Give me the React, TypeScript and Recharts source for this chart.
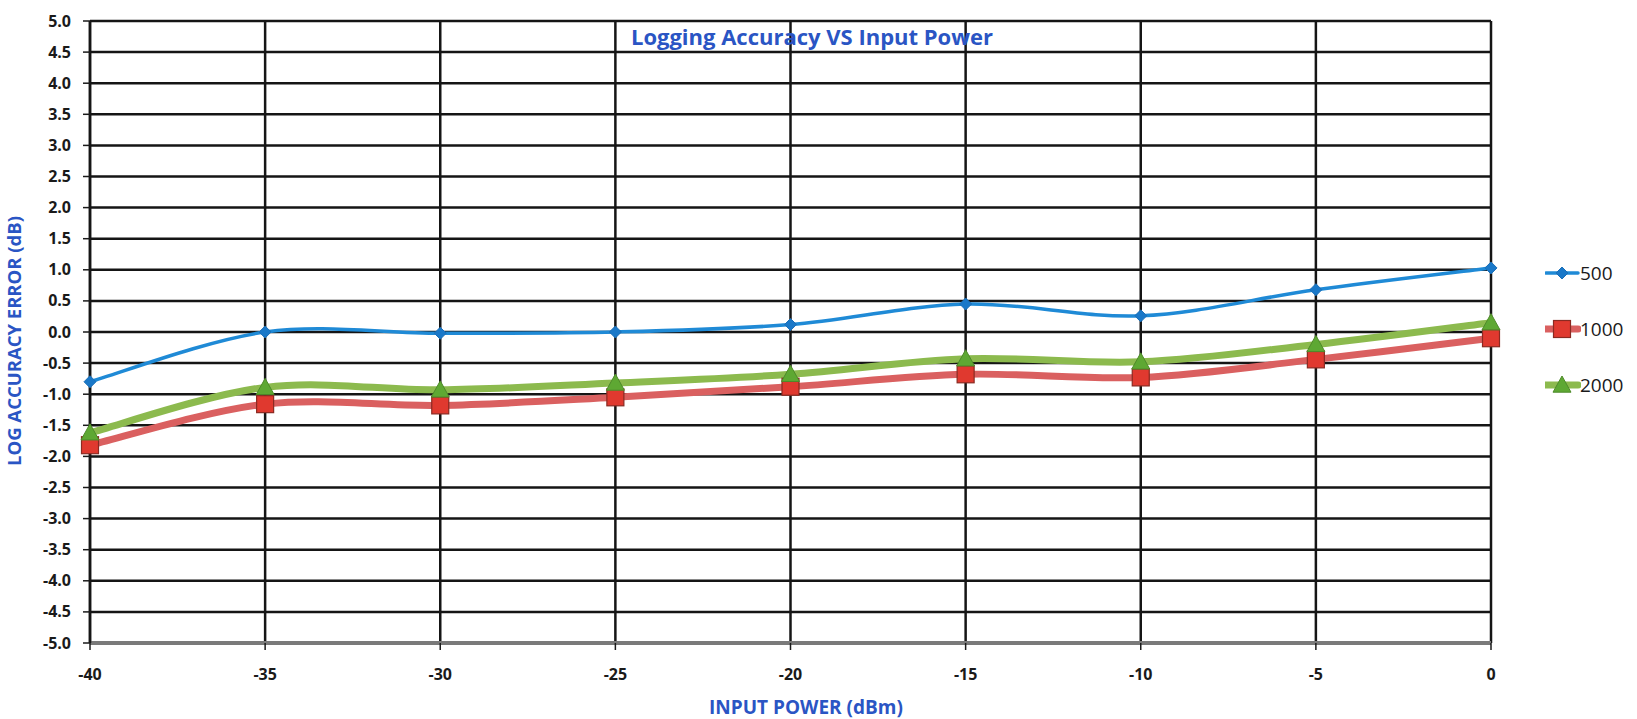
import React from 'react';
import { LineChart, Line, XAxis, YAxis, CartesianGrid } from 'recharts';

const inputPower = [-40, -35, -30, -25, -20, -15, -10, -5, 0];
const s500 = [-0.8, 0.0, -0.02, 0.0, 0.12, 0.45, 0.26, 0.68, 1.03];
const s1000 = [-1.82, -1.16, -1.18, -1.05, -0.88, -0.68, -0.73, -0.44, -0.1];
const s2000 = [-1.62, -0.89, -0.93, -0.82, -0.68, -0.43, -0.48, -0.2, 0.15];
const xTicks = [-40, -35, -30, -25, -20, -15, -10, -5, 0];
const yTicks = [-5, -4.5, -4, -3.5, -3, -2.5, -2, -1.5, -1, -0.5, 0, 0.5, 1, 1.5, 2, 2.5, 3, 3.5, 4, 4.5, 5];
const seriesNames = ['500', '1000', '2000'];

const data = inputPower.map((x, i) => ({ x, s500: s500[i], s1000: s1000[i], s2000: s2000[i] }));

const BLUE = '#1f8ad6';
const RED_LINE = '#da6060';
const GREEN_LINE = '#8cba4e';
const TITLE_BLUE = '#2a55c4';
const FONT = '"Open Sans", Arial, sans-serif';

// Excel-like smoothing (uniform Catmull-Rom as cubic Bezier)
const excelCurve = (context: any) => {
  let pts: number[][] = [];
  return {
    areaStart() {},
    areaEnd() {},
    lineStart() { pts = []; },
    lineEnd() {
      if (!pts.length) return;
      context.moveTo(pts[0][0], pts[0][1]);
      for (let i = 0; i < pts.length - 1; i++) {
        const p0 = pts[i - 1] || pts[i];
        const p1 = pts[i];
        const p2 = pts[i + 1];
        const p3 = pts[i + 2] || pts[i + 1];
        const c1x = p1[0] + (p2[0] - p0[0]) / 6;
        const c1y = p1[1] + (p2[1] - p0[1]) / 6;
        const c2x = p2[0] - (p3[0] - p1[0]) / 6;
        const c2y = p2[1] - (p3[1] - p1[1]) / 6;
        context.bezierCurveTo(c1x, c1y, c2x, c2y, p2[0], p2[1]);
      }
    },
    point(x: number, y: number) { pts.push([+x, +y]); },
  };
};

const Diamond = (props: any) => {
  const { cx, cy } = props;
  if (cx == null || cy == null) return null;
  const r = 6;
  return <path key={`d${cx}`} d={`M${cx},${cy - r}L${cx + r},${cy}L${cx},${cy + r}L${cx - r},${cy}Z`} fill="#1a78c8" stroke="#1a6fb8" strokeWidth={1} />;
};
const Square = (props: any) => {
  const { cx, cy } = props;
  if (cx == null || cy == null) return null;
  const r = 8.5;
  return <rect key={`s${cx}`} x={cx - r} y={cy - r} width={2 * r} height={2 * r} fill="#e0392f" stroke="#8a2a22" strokeWidth={1.2} />;
};
const Triangle = (props: any) => {
  const { cx, cy } = props;
  if (cx == null || cy == null) return null;
  const r = 9;
  return <path key={`t${cx}`} d={`M${cx},${cy - r}L${cx + r},${cy + r * 0.8}L${cx - r},${cy + r * 0.8}Z`} fill="#5ea833" stroke="#4e8a2a" strokeWidth={1} />;
};

const XTick = (props: any) => {
  const { x, y, payload } = props;
  return (
    <text x={x} y={y + 30} textAnchor="middle" fontFamily={FONT} fontWeight={700} fontSize={16} fill="#1a1a1a">
      {payload.value}
    </text>
  );
};
const YTick = (props: any) => {
  const { x, y, payload } = props;
  return (
    <text x={x - 12} y={y + 5.5} textAnchor="end" fontFamily={FONT} fontWeight={700} fontSize={16} fill="#1a1a1a">
      {Number(payload.value).toFixed(1)}
    </text>
  );
};

const LegendIcon = ({ kind, color }: { kind: number; color: string }) => {
  const cx = 17, cy = 10;
  return (
    <svg width={36} height={20} style={{ display: 'block' }}>
      <line x1={1} y1={cy} x2={33} y2={cy} stroke={color} strokeWidth={kind === 0 ? 3.5 : 7} strokeLinecap="round" />
      {kind === 0 && <Diamond cx={cx} cy={cy} />}
      {kind === 1 && <Square cx={cx} cy={cy} />}
      {kind === 2 && <Triangle cx={cx} cy={cy} />}
    </svg>
  );
};

export default function App() {
  const colors = [BLUE, RED_LINE, GREEN_LINE];
  const legendY = [273, 329, 385];
  return (
    <div style={{ position: 'absolute', left: 0, top: 0, width: 1637, height: 719, background: '#fff', fontFamily: FONT }}>
      <LineChart width={1637} height={719} data={data} margin={{ top: 21, right: 146, left: 0, bottom: 0 }}>
        <CartesianGrid stroke="#151515" strokeWidth={2.5} horizontalValues={yTicks} verticalValues={xTicks} />
        <XAxis
          dataKey="x"
          type="number"
          domain={[-40, 0]}
          ticks={xTicks}
          height={76}
          tickSize={7}
          tickMargin={0}
          tick={<XTick />}
          axisLine={{ stroke: '#7a7a7a', strokeWidth: 4 }}
          tickLine={{ stroke: '#1a1a1a', strokeWidth: 1.5 }}
          interval={0}
        />
        <YAxis
          type="number"
          domain={[-5, 5]}
          ticks={yTicks}
          width={90}
          tickSize={7}
          tickMargin={0}
          tick={<YTick />}
          axisLine={{ stroke: '#151515', strokeWidth: 2.5 }}
          tickLine={{ stroke: '#1a1a1a', strokeWidth: 1.5 }}
          interval={0}
          allowDataOverflow
        />
        <Line dataKey="s500" name="500" type={excelCurve as any} stroke={BLUE} strokeWidth={3.5} dot={<Diamond />} activeDot={false} isAnimationActive={false} />
        <Line dataKey="s1000" name="1000" type={excelCurve as any} stroke={RED_LINE} strokeWidth={7} dot={<Square />} activeDot={false} isAnimationActive={false} />
        <Line dataKey="s2000" name="2000" type={excelCurve as any} stroke={GREEN_LINE} strokeWidth={7} dot={<Triangle />} activeDot={false} isAnimationActive={false} />
        <text x={812} y={45} textAnchor="middle" fontFamily={FONT} fontWeight={700} fontSize={22} fill={TITLE_BLUE}>
          Logging Accuracy VS Input Power
        </text>
        <text x={806} y={714} textAnchor="middle" fontFamily={FONT} fontWeight={700} fontSize={19} fill={TITLE_BLUE}>
          INPUT POWER (dBm)
        </text>
        <text x={21} y={341} textAnchor="middle" fontFamily={FONT} fontWeight={700} fontSize={18.5} fill={TITLE_BLUE} transform="rotate(-90 21 341)">
          LOG ACCURACY ERROR (dB)
        </text>
      </LineChart>
      {seriesNames.map((n, i) => (
        <div key={n} style={{ position: 'absolute', left: 1545, top: legendY[i] - 11, display: 'flex', alignItems: 'center', height: 22 }}>
          <LegendIcon kind={i} color={colors[i]} />
          <span style={{ fontFamily: FONT, fontSize: 19, color: '#1a1a1a', marginLeft: -1 }}>{n}</span>
        </div>
      ))}
    </div>
  );
}
